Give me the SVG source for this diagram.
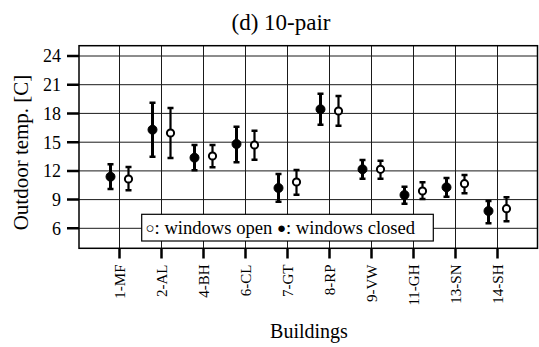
<svg xmlns="http://www.w3.org/2000/svg" width="539" height="347" viewBox="0 0 539 347" font-family="'Liberation Serif', 'Times New Roman', 'DejaVu Serif', serif">
<style>
text{font-family:'Liberation Serif','Times New Roman','DejaVu Serif',serif;fill:#000}
.grid{stroke:#1a1a1a;stroke-width:1;fill:none}
.tick{stroke:#000;stroke-width:2.5}
.ytl{font-size:18px;text-anchor:end}
.xtl{font-size:15px;text-anchor:end}
.bar{stroke:#000;stroke-width:2.2;fill:none}
.barc{stroke:#000;stroke-width:3;fill:none}
.cap{stroke:#000;stroke-width:2.5}
.cl{fill:#000;stroke:#000;stroke-width:1}
.op{fill:#fff;stroke:#000;stroke-width:2}
</style>
<rect width="539" height="347" fill="#fff"/>
<text id="title" x="281" y="30" font-size="23" text-anchor="middle">(d) 10-pair</text>
<g id="grid">
<path class="grid" d="M79 56H537.5M79 84.7H537.5M79 113.4H537.5M79 142.2H537.5M79 170.9H537.5M79 199.6H537.5M79 228.3H537.5"/>
<path class="grid" d="M119.5 46V248M161.5 46V248M203.5 46V248M245.5 46V248M287.5 46V248M329.5 46V248M371.5 46V248M413.5 46V248M455.5 46V248M497.5 46V248"/>
</g>
<g id="legend">
<rect x="141.7" y="214.3" width="291.6" height="26.7" fill="#fff" stroke="#000" stroke-width="1.2"/>
<text x="145.5" y="233.5" font-size="18.6"><tspan font-size="15" dy="-1">○</tspan><tspan dy="1">: windows open </tspan><tspan font-size="15" dy="-1">●</tspan><tspan dy="1">: windows closed</tspan></text>
</g>
<rect id="frame" x="79" y="45.7" width="458.5" height="202.6" fill="none" stroke="#000" stroke-width="1.5"/>
<g id="yaxis">
<path class="tick" d="M67 56H79M67 84.7H79M67 113.4H79M67 142.2H79M67 170.9H79M67 199.6H79M67 228.3H79"/>
<text class="ytl" x="61" y="62.3">24</text>
<text class="ytl" x="61" y="91">21</text>
<text class="ytl" x="61" y="119.7">18</text>
<text class="ytl" x="61" y="148.5">15</text>
<text class="ytl" x="61" y="177.2">12</text>
<text class="ytl" x="61" y="205.9">9</text>
<text class="ytl" x="61" y="234.6">6</text>
<text x="27.5" y="152.5" font-size="21" text-anchor="middle" transform="rotate(-90 27.5 152.5)">Outdoor temp. [C]</text>
</g>
<g id="xaxis">
<path class="tick" d="M119.5 248V258.5M161.5 248V258.5M203.5 248V258.5M245.5 248V258.5M287.5 248V258.5M329.5 248V258.5M371.5 248V258.5M413.5 248V258.5M455.5 248V258.5M497.5 248V258.5"/>
<text class="xtl" transform="translate(125 264.5) rotate(-90)">1-MF</text>
<text class="xtl" transform="translate(167 264.5) rotate(-90)">2-AL</text>
<text class="xtl" transform="translate(209 264.5) rotate(-90)">4-BH</text>
<text class="xtl" transform="translate(251 264.5) rotate(-90)">6-CL</text>
<text class="xtl" transform="translate(293 264.5) rotate(-90)">7-GT</text>
<text class="xtl" transform="translate(335 264.5) rotate(-90)">8-RP</text>
<text class="xtl" transform="translate(377 264.5) rotate(-90)">9-VW</text>
<text class="xtl" transform="translate(419 264.5) rotate(-90)">11-GH</text>
<text class="xtl" transform="translate(461 264.5) rotate(-90)">13-SN</text>
<text class="xtl" transform="translate(503 264.5) rotate(-90)">14-SH</text>
<text x="309" y="338" font-size="20" text-anchor="middle">Buildings</text>
</g>
<g id="closed">
<path class="barc" d="M110.5 164.3V189M152.5 102.7V156.7M194.5 145V170.3M236.5 126.7V162.3M278.5 174V201.7M320.5 93.7V124.7M362.5 160V178.7M404.5 186.7V203.7M446.5 178V196.7M488.5 201V223.3"/>
<path class="cap" d="M107.5 164.3h6M107.5 189h6M149.5 102.7h6M149.5 156.7h6M191.5 145h6M191.5 170.3h6M233.5 126.7h6M233.5 162.3h6M275.5 174h6M275.5 201.7h6M317.5 93.7h6M317.5 124.7h6M359.5 160h6M359.5 178.7h6M401.5 186.7h6M401.5 203.7h6M443.5 178h6M443.5 196.7h6M485.5 201h6M485.5 223.3h6"/>
<circle class="cl" cx="110.5" cy="176.7" r="4.5"/>
<circle class="cl" cx="152.5" cy="129.7" r="4.5"/>
<circle class="cl" cx="194.5" cy="157.7" r="4.5"/>
<circle class="cl" cx="236.5" cy="144" r="4.5"/>
<circle class="cl" cx="278.5" cy="188" r="4.5"/>
<circle class="cl" cx="320.5" cy="109.3" r="4.5"/>
<circle class="cl" cx="362.5" cy="169.3" r="4.5"/>
<circle class="cl" cx="404.5" cy="195" r="4.5"/>
<circle class="cl" cx="446.5" cy="187.3" r="4.5"/>
<circle class="cl" cx="488.5" cy="211" r="4.5"/>
</g>
<g id="open">
<path class="bar" d="M128.5 167V190.3M170.5 108V158M212.5 145V167.3M254.5 130.7V159.7M296.5 170V194.7M338.5 96V125.7M380.5 160.7V178.7M422.5 182.3V199M464.5 175V193.3M506.5 197.3V221.3"/>
<path class="cap" d="M125.5 167h6M125.5 190.3h6M167.5 108h6M167.5 158h6M209.5 145h6M209.5 167.3h6M251.5 130.7h6M251.5 159.7h6M293.5 170h6M293.5 194.7h6M335.5 96h6M335.5 125.7h6M377.5 160.7h6M377.5 178.7h6M419.5 182.3h6M419.5 199h6M461.5 175h6M461.5 193.3h6M503.5 197.3h6M503.5 221.3h6"/>
<circle class="op" cx="128.5" cy="179" r="3.6"/>
<circle class="op" cx="170.5" cy="133" r="3.6"/>
<circle class="op" cx="212.5" cy="156" r="3.6"/>
<circle class="op" cx="254.5" cy="145" r="3.6"/>
<circle class="op" cx="296.5" cy="182" r="3.6"/>
<circle class="op" cx="338.5" cy="111" r="3.6"/>
<circle class="op" cx="380.5" cy="169.3" r="3.6"/>
<circle class="op" cx="422.5" cy="191" r="3.6"/>
<circle class="op" cx="464.5" cy="183.7" r="3.6"/>
<circle class="op" cx="506.5" cy="208.7" r="3.6"/>
</g>
</svg>
